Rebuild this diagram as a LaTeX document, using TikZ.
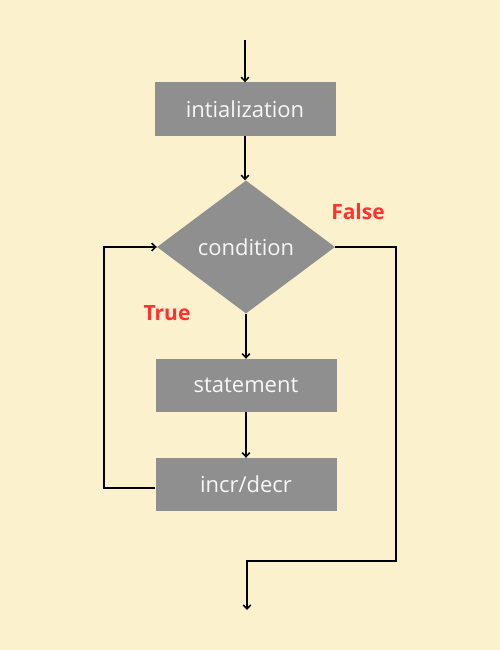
\documentclass[tikz,border=0pt]{standalone}
\usepackage{fontspec}
\setmainfont{Open Sans}
\usetikzlibrary{arrows.meta,shapes.geometric}
\definecolor{bgc}{HTML}{FBF1CD}
\definecolor{boxc}{HTML}{8F8F8F}
\definecolor{txtc}{HTML}{F7F7F7}
\definecolor{redc}{HTML}{FF3131}
\begin{document}
\begin{tikzpicture}[x=1pt,y=-1pt,
  box/.style={fill=boxc,minimum width=181pt,minimum height=53pt,inner sep=0pt,text=txtc,font=\fontsize{22}{26}\selectfont},
  dia/.style={diamond,fill=boxc,minimum width=178pt,minimum height=133pt,inner sep=0pt,text=txtc,font=\fontsize{22}{26}\selectfont},
  conn/.style={line width=1.9pt,black},
  arr/.style={conn,-{Straight Barb[length=4pt,width=7.5pt,line width=1.5pt]}},
  lbl/.style={text=redc,font=\fontsize{21}{24}\selectfont\bfseries}]
\fill[bgc] (0,0) rectangle (500,650);
\useasboundingbox (0,0) rectangle (500,650);
\coordinate (start) at (245,40);
\node[box] (init) at (245,109) {intialization};
\node[dia] (cond) at (246,247) {condition};
\node[box] (stmt) at (246,385.5) {statement};
\node[box] (incr) at (246,484.5) {incr/decr};
\coordinate (r1) at (396,247);
\coordinate (r2) at (396,561);
\coordinate (r3) at (247,561);
\coordinate (endp) at (247,610);
\coordinate (l1) at (104,488);
\coordinate (l2) at (104,247);
\node[lbl] (false) at (358,212) {False};
\node[lbl] (true) at (167,313) {True};
\draw[arr] (start) -- (init.north);
\draw[arr] (init.south) -- (init.south |- cond.north);
\draw[arr] (cond.south) -- (stmt.north);
\draw[arr] (stmt.south) -- (incr.north);
\draw[arr] (incr.west |- l1) -- (l1) -- (l2) -- (cond.west);
\draw[arr] (cond.east) -- (r1) -- (r2) -- (r3) -- (endp);
\end{tikzpicture}
\end{document}
